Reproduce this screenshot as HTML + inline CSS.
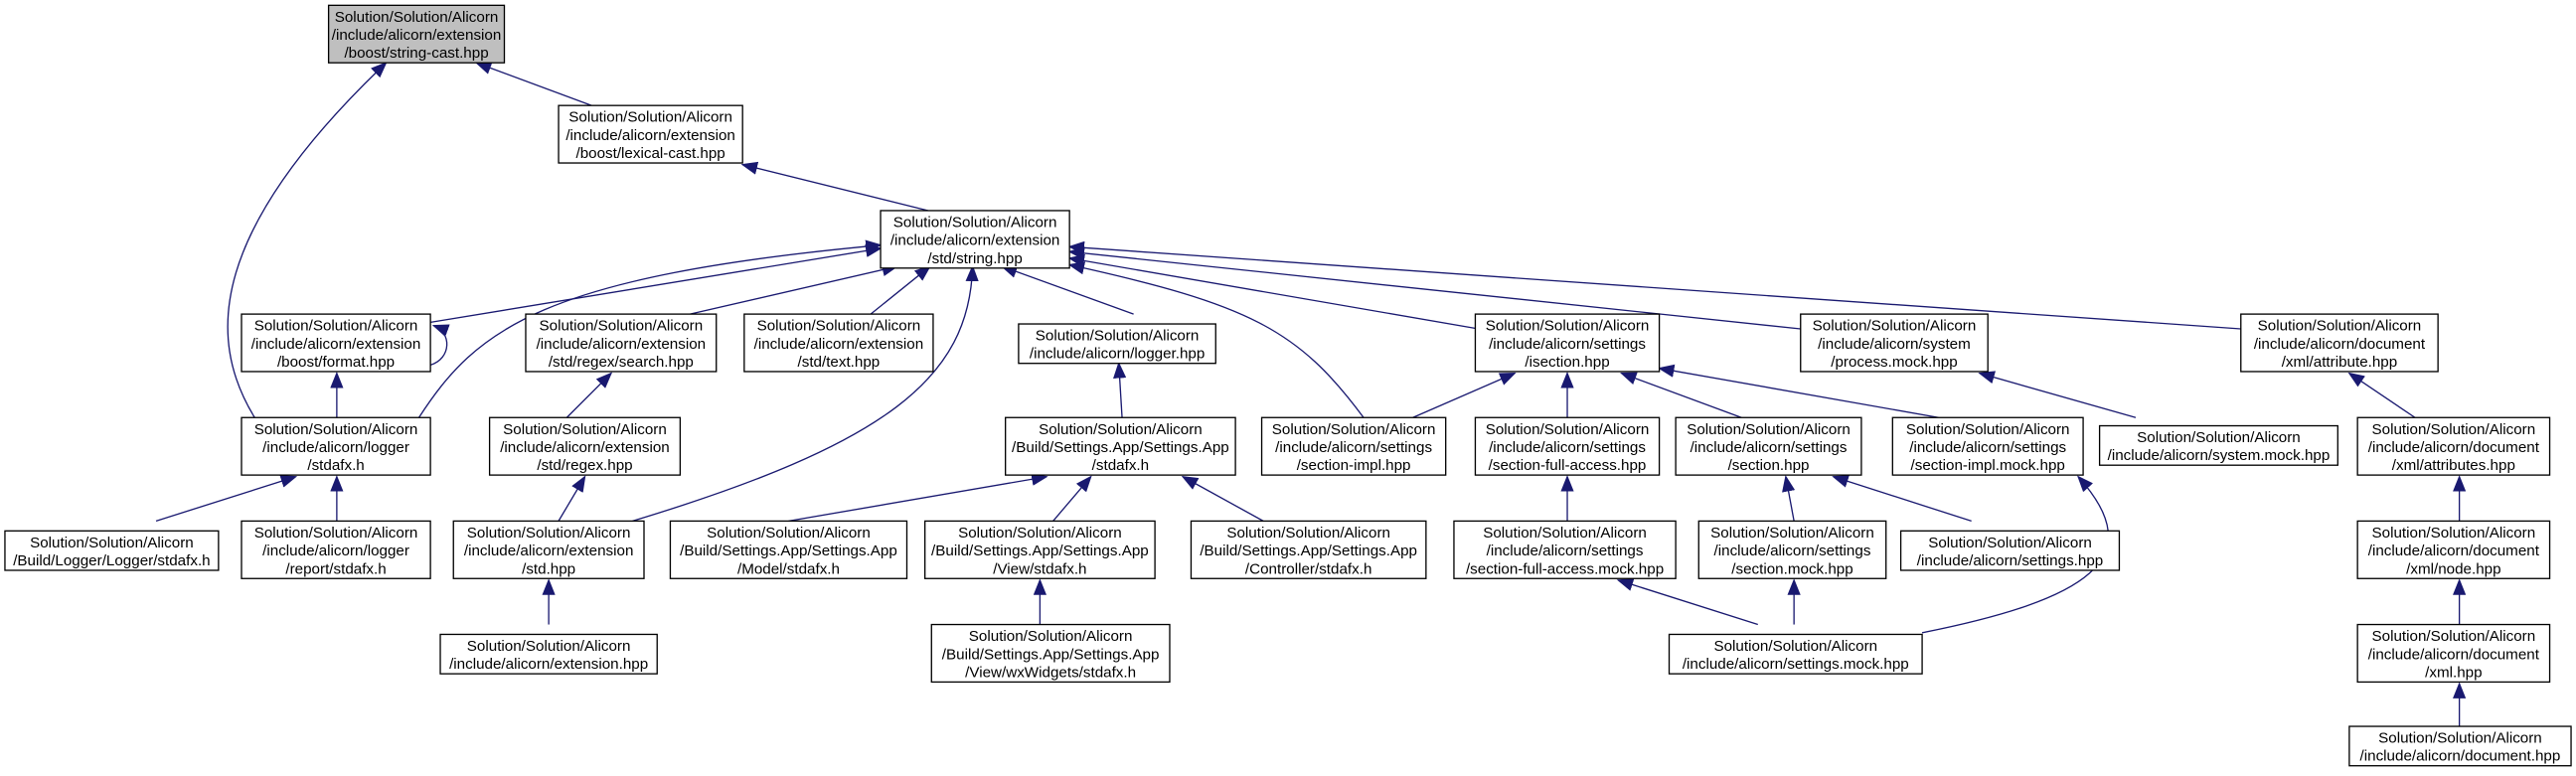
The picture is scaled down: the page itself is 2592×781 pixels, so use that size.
<!DOCTYPE html>
<html><head><meta charset="utf-8"><style>
html,body{margin:0;padding:0;background:#fff;width:2592px;height:781px;overflow:hidden}
text{font-family:"Liberation Sans",sans-serif;font-size:9.2px;fill:#000;text-anchor:middle}
rect{fill:#fff;stroke:#000;stroke-width:0.8}
.e{fill:none;stroke:#191970;stroke-width:0.8;marker-end:url(#a)}
</style></head><body>
<svg width="2592" height="781" viewBox="0 0 1568 472" xmlns="http://www.w3.org/2000/svg">
<defs><marker id="a" markerWidth="10" markerHeight="8" refX="9" refY="4" orient="auto" markerUnits="userSpaceOnUse"><path d="M0,0 L10,4 L0,8 z" fill="#191970"/></marker></defs>
<path class="e" d="M360,64 L290,38"/>
<path class="e" d="M155,254 C125,205 128,140 235,38"/>
<path class="e" d="M565,128 L452,100"/>
<path class="e" d="M262,196 L536,151"/>
<path class="e" d="M262,222 C275,218 275,202 264,198"/>
<path class="e" d="M255,254 C290,200 330,168 536,149"/>
<path class="e" d="M420,191 L546,162"/>
<path class="e" d="M530,191 L566,162"/>
<path class="e" d="M385,317 C540,270 590,230 592,162"/>
<path class="e" d="M690,191 L610,162"/>
<path class="e" d="M830,254 C790,200 760,185 651,161"/>
<path class="e" d="M900,200 L651,157"/>
<path class="e" d="M1096,200 L651,153"/>
<path class="e" d="M1364,200 L651,150"/>
<path class="e" d="M205,254 L205,227"/>
<path class="e" d="M345,254 L372,227"/>
<path class="e" d="M95,317 L180,290"/>
<path class="e" d="M205,317 L205,290"/>
<path class="e" d="M340,317 L356,290"/>
<path class="e" d="M334,380 L334,353"/>
<path class="e" d="M683,254 L681,221"/>
<path class="e" d="M480,317 L637,290"/>
<path class="e" d="M641,317 L664,290"/>
<path class="e" d="M769,317 L720,290"/>
<path class="e" d="M633,380 L633,353"/>
<path class="e" d="M860,254 L922,227"/>
<path class="e" d="M954,254 L954,227"/>
<path class="e" d="M1060,254 L987,227"/>
<path class="e" d="M1180,254 L1010,224"/>
<path class="e" d="M1300,254 L1205,227"/>
<path class="e" d="M1470,254 L1430,227"/>
<path class="e" d="M954,317 L954,290"/>
<path class="e" d="M1092,317 L1087,290"/>
<path class="e" d="M1200,317 L1116,290"/>
<path class="e" d="M1070,380 L985,353"/>
<path class="e" d="M1092,380 L1092,353"/>
<path class="e" d="M1170,385 C1270,365 1310,340 1265,290"/>
<path class="e" d="M1497,317 L1497,290"/>
<path class="e" d="M1497,380 L1497,353"/>
<path class="e" d="M1497,442 L1497,416"/>
<rect x="200" y="3" width="107" height="35" style="fill:#bfbfbf"/><text x="253.5" y="13">Solution/Solution/Alicorn</text><text x="253.5" y="24">/include/alicorn/extension</text><text x="253.5" y="35">/boost/string-cast.hpp</text>
<rect x="340" y="64" width="112" height="35"/><text x="396" y="74">Solution/Solution/Alicorn</text><text x="396" y="85">/include/alicorn/extension</text><text x="396" y="96">/boost/lexical-cast.hpp</text>
<rect x="536" y="128" width="115" height="35"/><text x="593.5" y="138">Solution/Solution/Alicorn</text><text x="593.5" y="149">/include/alicorn/extension</text><text x="593.5" y="160">/std/string.hpp</text>
<rect x="147" y="191" width="115" height="35"/><text x="204.5" y="201">Solution/Solution/Alicorn</text><text x="204.5" y="212">/include/alicorn/extension</text><text x="204.5" y="223">/boost/format.hpp</text>
<rect x="320" y="191" width="116" height="35"/><text x="378" y="201">Solution/Solution/Alicorn</text><text x="378" y="212">/include/alicorn/extension</text><text x="378" y="223">/std/regex/search.hpp</text>
<rect x="453" y="191" width="115" height="35"/><text x="510.5" y="201">Solution/Solution/Alicorn</text><text x="510.5" y="212">/include/alicorn/extension</text><text x="510.5" y="223">/std/text.hpp</text>
<rect x="620" y="197" width="120" height="24"/><text x="680" y="207">Solution/Solution/Alicorn</text><text x="680" y="218">/include/alicorn/logger.hpp</text>
<rect x="898" y="191" width="112" height="35"/><text x="954" y="201">Solution/Solution/Alicorn</text><text x="954" y="212">/include/alicorn/settings</text><text x="954" y="223">/isection.hpp</text>
<rect x="1096" y="191" width="114" height="35"/><text x="1153" y="201">Solution/Solution/Alicorn</text><text x="1153" y="212">/include/alicorn/system</text><text x="1153" y="223">/process.mock.hpp</text>
<rect x="1364" y="191" width="120" height="35"/><text x="1424" y="201">Solution/Solution/Alicorn</text><text x="1424" y="212">/include/alicorn/document</text><text x="1424" y="223">/xml/attribute.hpp</text>
<rect x="147" y="254" width="115" height="35"/><text x="204.5" y="264">Solution/Solution/Alicorn</text><text x="204.5" y="275">/include/alicorn/logger</text><text x="204.5" y="286">/stdafx.h</text>
<rect x="298" y="254" width="116" height="35"/><text x="356" y="264">Solution/Solution/Alicorn</text><text x="356" y="275">/include/alicorn/extension</text><text x="356" y="286">/std/regex.hpp</text>
<rect x="612" y="254" width="140" height="35"/><text x="682" y="264">Solution/Solution/Alicorn</text><text x="682" y="275">/Build/Settings.App/Settings.App</text><text x="682" y="286">/stdafx.h</text>
<rect x="768" y="254" width="112" height="35"/><text x="824" y="264">Solution/Solution/Alicorn</text><text x="824" y="275">/include/alicorn/settings</text><text x="824" y="286">/section-impl.hpp</text>
<rect x="898" y="254" width="112" height="35"/><text x="954" y="264">Solution/Solution/Alicorn</text><text x="954" y="275">/include/alicorn/settings</text><text x="954" y="286">/section-full-access.hpp</text>
<rect x="1020" y="254" width="113" height="35"/><text x="1076.5" y="264">Solution/Solution/Alicorn</text><text x="1076.5" y="275">/include/alicorn/settings</text><text x="1076.5" y="286">/section.hpp</text>
<rect x="1152" y="254" width="116" height="35"/><text x="1210" y="264">Solution/Solution/Alicorn</text><text x="1210" y="275">/include/alicorn/settings</text><text x="1210" y="286">/section-impl.mock.hpp</text>
<rect x="1278" y="259" width="145" height="24"/><text x="1350.5" y="269">Solution/Solution/Alicorn</text><text x="1350.5" y="280">/include/alicorn/system.mock.hpp</text>
<rect x="1435" y="254" width="117" height="35"/><text x="1493.5" y="264">Solution/Solution/Alicorn</text><text x="1493.5" y="275">/include/alicorn/document</text><text x="1493.5" y="286">/xml/attributes.hpp</text>
<rect x="3" y="323" width="130" height="24"/><text x="68" y="333">Solution/Solution/Alicorn</text><text x="68" y="344">/Build/Logger/Logger/stdafx.h</text>
<rect x="147" y="317" width="115" height="35"/><text x="204.5" y="327">Solution/Solution/Alicorn</text><text x="204.5" y="338">/include/alicorn/logger</text><text x="204.5" y="349">/report/stdafx.h</text>
<rect x="276" y="317" width="116" height="35"/><text x="334" y="327">Solution/Solution/Alicorn</text><text x="334" y="338">/include/alicorn/extension</text><text x="334" y="349">/std.hpp</text>
<rect x="408" y="317" width="144" height="35"/><text x="480" y="327">Solution/Solution/Alicorn</text><text x="480" y="338">/Build/Settings.App/Settings.App</text><text x="480" y="349">/Model/stdafx.h</text>
<rect x="563" y="317" width="140" height="35"/><text x="633" y="327">Solution/Solution/Alicorn</text><text x="633" y="338">/Build/Settings.App/Settings.App</text><text x="633" y="349">/View/stdafx.h</text>
<rect x="725" y="317" width="143" height="35"/><text x="796.5" y="327">Solution/Solution/Alicorn</text><text x="796.5" y="338">/Build/Settings.App/Settings.App</text><text x="796.5" y="349">/Controller/stdafx.h</text>
<rect x="885" y="317" width="135" height="35"/><text x="952.5" y="327">Solution/Solution/Alicorn</text><text x="952.5" y="338">/include/alicorn/settings</text><text x="952.5" y="349">/section-full-access.mock.hpp</text>
<rect x="1034" y="317" width="114" height="35"/><text x="1091" y="327">Solution/Solution/Alicorn</text><text x="1091" y="338">/include/alicorn/settings</text><text x="1091" y="349">/section.mock.hpp</text>
<rect x="1157" y="323" width="133" height="24"/><text x="1223.5" y="333">Solution/Solution/Alicorn</text><text x="1223.5" y="344">/include/alicorn/settings.hpp</text>
<rect x="1435" y="317" width="117" height="35"/><text x="1493.5" y="327">Solution/Solution/Alicorn</text><text x="1493.5" y="338">/include/alicorn/document</text><text x="1493.5" y="349">/xml/node.hpp</text>
<rect x="268" y="386" width="132" height="24"/><text x="334" y="396">Solution/Solution/Alicorn</text><text x="334" y="407">/include/alicorn/extension.hpp</text>
<rect x="567" y="380" width="145" height="35"/><text x="639.5" y="390">Solution/Solution/Alicorn</text><text x="639.5" y="401">/Build/Settings.App/Settings.App</text><text x="639.5" y="412">/View/wxWidgets/stdafx.h</text>
<rect x="1016" y="386" width="154" height="24"/><text x="1093" y="396">Solution/Solution/Alicorn</text><text x="1093" y="407">/include/alicorn/settings.mock.hpp</text>
<rect x="1435" y="380" width="117" height="35"/><text x="1493.5" y="390">Solution/Solution/Alicorn</text><text x="1493.5" y="401">/include/alicorn/document</text><text x="1493.5" y="412">/xml.hpp</text>
<rect x="1430" y="442" width="135" height="24"/><text x="1497.5" y="452">Solution/Solution/Alicorn</text><text x="1497.5" y="463">/include/alicorn/document.hpp</text>
</svg>
</body></html>
